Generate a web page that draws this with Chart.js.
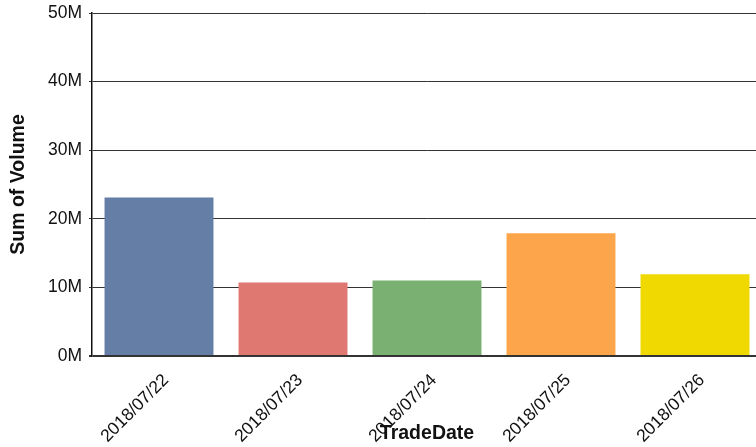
<!DOCTYPE html>
<html>
<head>
<meta charset="utf-8">
<script src="https://cdn.jsdelivr.net/npm/chart.js@4"></script>
<style>
  html, body { margin: 0; padding: 0; background: #fff; overflow: hidden; }
  #wrap { width: 762px; height: 447px; }
</style>
</head>
<body>
<div id="wrap"><canvas id="chart"></canvas></div>
<script>
const tradeDates = ['2018/07/22', '2018/07/23', '2018/07/24', '2018/07/25', '2018/07/26'];
const volumeMillions = [23.1, 10.7, 11.0, 17.9, 11.9];
const barColors = ['#647ea6', '#e07872', '#7ab173', '#fca54b', '#efd900'];
const yTicks = [0, 10, 20, 30, 40, 50];

const font = 'Arial, "Liberation Sans", sans-serif';

new Chart(document.getElementById('chart'), {
  type: 'bar',
  data: {
    labels: tradeDates,
    datasets: [{
      data: volumeMillions,
      backgroundColor: barColors,
      borderWidth: 0,
      barPercentage: 0.813,
      categoryPercentage: 1
    }]
  },
  options: {
    responsive: true,
    maintainAspectRatio: false,
    animation: false,
    layout: { padding: { top: 13, right: 0, bottom: 0, left: 0 } },
    plugins: { legend: { display: false }, tooltip: { enabled: false } },
    scales: {
      x: {
        grid: { display: false, drawTicks: false },
        border: { display: false },
        ticks: {
          color: '#111', font: { family: font, size: 17.5 },
          maxRotation: 45, minRotation: 45, padding: 14, labelOffset: 7
        },
        title: {
          display: true, text: 'TradeDate', color: '#111',
          font: { family: font, size: 19.5, weight: 'bold' },
          padding: { top: 0, bottom: 2 }
        },
        afterFit: s => { s.height = 91; }
      },
      y: {
        min: 0, max: 50,
        afterBuildTicks: s => { s.ticks = yTicks.map(v => ({ value: v })); },
        grid: {
          color: '#333',
          lineWidth: ctx => ctx.tick && ctx.tick.value === 0 ? 2 : 1,
          tickLength: 3,
          tickColor: '#333'
        },
        border: { display: true, color: '#111', width: 1.5 },
        ticks: {
          color: '#111', font: { family: font, size: 17.5 }, padding: 7,
          callback: v => v + 'M'
        },
        title: {
          display: true, text: 'Sum of Volume', color: '#111',
          font: { family: font, size: 19.5, weight: 'bold' },
          padding: { top: 7, bottom: 0 }
        },
        afterFit: s => {
          s.width = 92;
          s.paddingTop = 0;
          s.paddingBottom = 0;
        }
      }
    }
  }
});
</script>
</body>
</html>
